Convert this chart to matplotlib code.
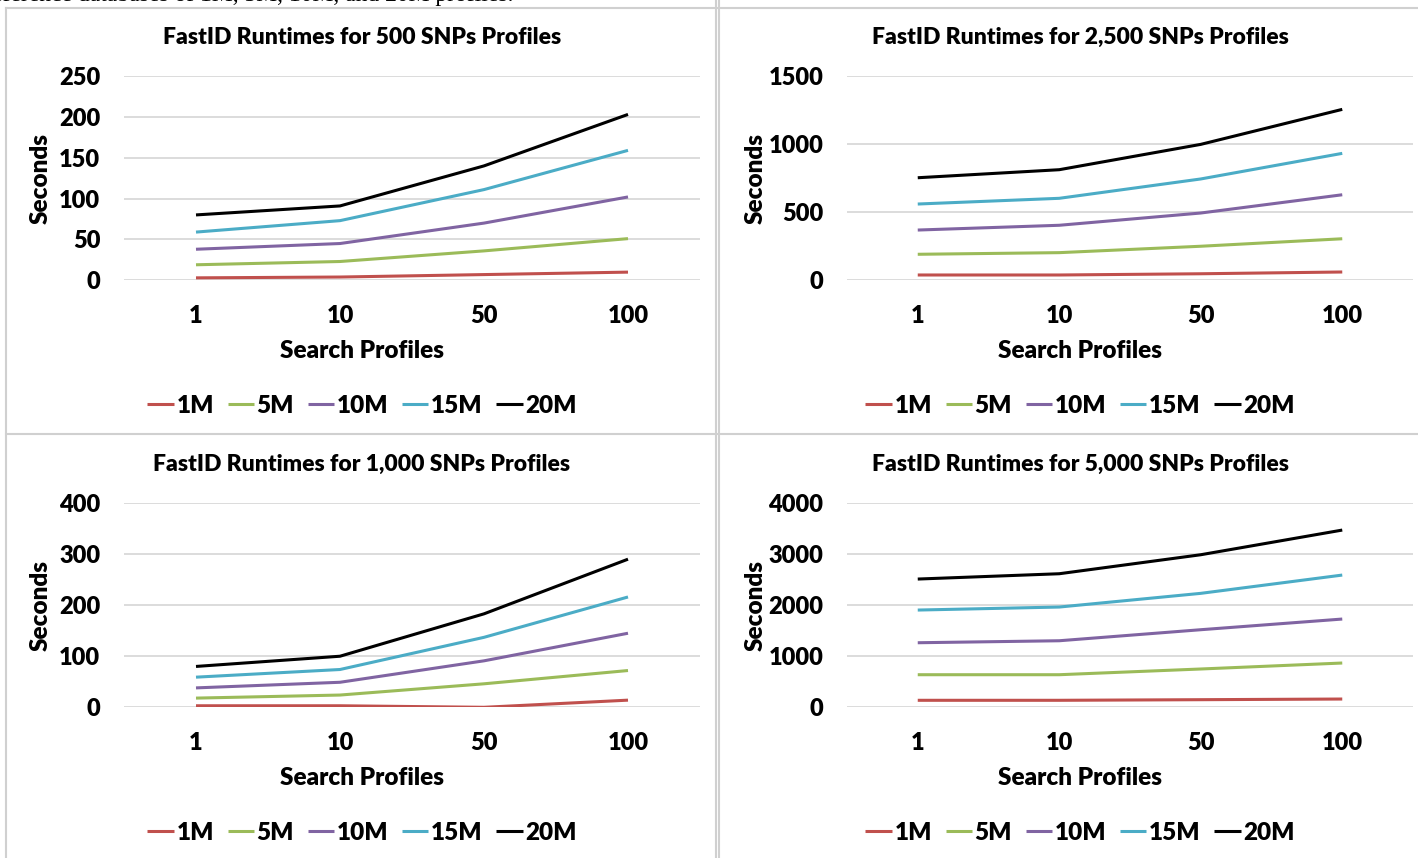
import matplotlib.pyplot as plt
from matplotlib.lines import Line2D
import numpy as np

plt.rcParams['font.family'] = ['Lato', 'DejaVu Sans']
plt.rcParams['font.weight'] = 'heavy'

search_profiles = ["1", "10", "50", "100"]
db_sizes = ["1M", "5M", "10M", "15M", "20M"]
colors = ["#C0504D", "#9BBB59", "#8064A2", "#4BACC6", "#000000"]

# seconds, one list per database size
snp500 = [[3, 4, 7, 10],
          [19, 23, 36, 51],
          [38, 45, 70, 102],
          [59, 73, 111, 159],
          [80, 91, 140, 203]]
snp2500 = [[39, 39, 48, 61],
           [191, 203, 250, 305],
           [369, 404, 494, 628],
           [560, 602, 744, 932],
           [753, 812, 998, 1255]]
snp1000 = [[3, 3, 0, 14],
           [18, 24, 46, 72],
           [38, 49, 91, 145],
           [59, 74, 137, 216],
           [80, 100, 183, 290]]
snp5000 = [[137, 137, 149, 162],
           [638, 638, 750, 867],
           [1264, 1303, 1519, 1728],
           [1904, 1963, 2231, 2589],
           [2511, 2615, 2987, 3470]]

titles = ["FastID Runtimes for 500 SNPs Profiles",
          "FastID Runtimes for 2,500 SNPs Profiles",
          "FastID Runtimes for 1,000 SNPs Profiles",
          "FastID Runtimes for 5,000 SNPs Profiles"]
datasets = [snp500, snp2500, snp1000, snp5000]
ymax = [250, 1500, 400, 4000]
ystep = [50, 500, 100, 1000]

W, H = 1418, 858
fig = plt.figure(figsize=(W / 100, H / 100), dpi=100)

def fx(px):
    return px / W

def fy(py):
    return 1 - py / H

# plot area (left, right, top, bottom) in pixels, panel centre, title y, ylabel x
panels = [(124, 700, 76, 280.3, 362, 37, 41),
          (847, 1413, 76, 280.3, 1080, 37, 756),
          (124, 700, 503, 707.3, 362, 464, 41),
          (847, 1413, 503, 707.3, 1080, 464, 756)]

x = np.arange(len(search_profiles))
for i, (l, r, t, b, cx, ty, lx) in enumerate(panels):
    ax = fig.add_axes([fx(l), fy(b), fx(r - l), (b - t) / H])
    for j in range(len(db_sizes)):
        ax.plot(x, datasets[i][j], color=colors[j], lw=2.2, label=db_sizes[j],
                solid_capstyle='butt')
    ax.set_xlim(-0.5, 3.5)
    ax.set_ylim(0, ymax[i])
    ax.set_yticks(np.arange(0, ymax[i] + 1, ystep[i]))
    ax.set_xticks(x)
    ax.set_xticklabels(search_profiles)
    ax.grid(axis='y', color='#D9D9D9', lw=1.3)
    ax.set_axisbelow(True)
    for s in ax.spines.values():
        s.set_visible(False)
    ax.tick_params(length=0, labelsize=17)
    ax.tick_params(axis='y', pad=17)
    ax.tick_params(axis='x', pad=18)
    fig.text(fx(cx), fy(ty), titles[i], ha='center', va='center', fontsize=16.5)
    fig.text(fx(cx), fy(ty + 314), "Search Profiles", ha='center', va='center', fontsize=17.5)
    fig.text(fx(lx), fy((t + b) / 2), "Seconds", ha='center', va='center',
             rotation=90, fontsize=17.5)
    ax.legend(loc='center', bbox_to_anchor=(fx(cx), fy(ty + 369)),
              bbox_transform=fig.transFigure, ncol=5, frameon=False, fontsize=17.5,
              handlelength=1.1, handletextpad=0.1, columnspacing=0.55)

# chart area borders
gray = '#D0D0D0'
for xs, ys in [([6, W], [8, 8]), ([6, 6], [8, H]), ([6, W], [434, 434]),
               ([715.5, 715.5], [0, H]), ([718.5, 718.5], [0, H])]:
    fig.add_artist(Line2D([fx(v) for v in xs], [fy(v) for v in ys],
                          color=gray, lw=1.5))

# caption of the page, cut off at the top
fig.text(fx(-8), fy(1.5), "eference databases of 1M, 5M, 10M, and 20M profiles.",
         family='Liberation Serif', fontweight='normal', fontsize=17, va='baseline')

fig.savefig("out.png")
